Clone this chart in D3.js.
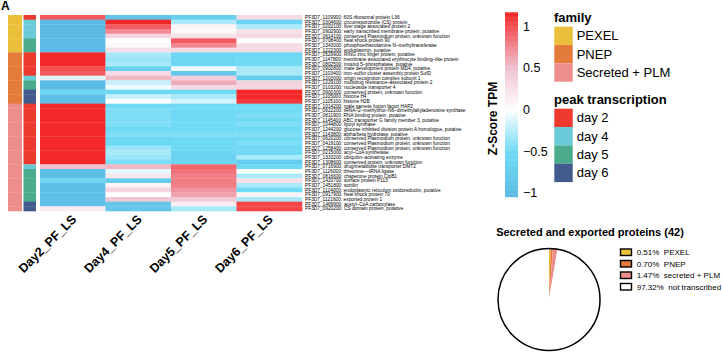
<!DOCTYPE html>
<html>
<head>
<meta charset="utf-8">
<script src="https://cdn.jsdelivr.net/npm/d3@7"></script>
<style>
  body { margin: 0; background: #fff; }
  svg { display: block; font-family: "Liberation Sans", Arial, sans-serif; }
</style>
</head>
<body>
<svg id="chart" width="722" height="352"></svg>
<script>
var days = ["Day2_PF_LS", "Day4_PF_LS", "Day5_PF_LS", "Day6_PF_LS"];

var genes = [
  "PF3D7_1109900: 60S ribosomal protein L36",
  "PF3D7_0304600: circumsporozoite (CS) protein",
  "PF3D7_0202100: liver stage associated protein 2",
  "PF3D7_0902900: early transcribed membrane protein, putative",
  "PF3D7_0614100: conserved Plasmodium protein, unknown function",
  "PF3D7_0708400: heat shock protein 90",
  "PF3D7_1343000: phosphoethanolamine N–methyltransferase",
  "PF3D7_1222300: endoplasmin, putative",
  "PF3D7_0529900: RING zinc finger protein, putative",
  "PF3D7_1147800: membrane associated erythrocyte binding–like protein",
  "PF3D7_0802500: inositol 5–phosphatase, putative",
  "PF3D7_0902800: male development protein MD4, putative",
  "PF3D7_1103400: iron–sulfur cluster assembly protein SufD",
  "PF3D7_1203000: origin recognition complex subunit 1",
  "PF3D7_1229100: multidrug resistance–associated protein 2",
  "PF3D7_0103200: nucleoside transporter 4",
  "PF3D7_0900300: conserved protein, unknown function",
  "PF3D7_1105000: histone H4",
  "PF3D7_1105100: histone H2B",
  "PF3D7_1014200: male gamete fusion factor HAP2",
  "PF3D7_0622200: tRNA–2–methylthio–N6–dimethylallyladenosine synthase",
  "PF3D7_0811900: RNA binding protein, putative",
  "PF3D7_1145400: ABC transporter G family member 3, putative",
  "PF3D7_1044800: lipoyl synthase",
  "PF3D7_1244200: glucose inhibited division protein A homologue, putative",
  "PF3D7_1143800: alpha/beta hydrolase, putative",
  "PF3D7_0620200: conserved Plasmodium protein, unknown function",
  "PF3D7_0419100: conserved Plasmodium protein, unknown function",
  "PF3D7_1258400: conserved Plasmodium protein, unknown function",
  "PF3D7_0215000: acyl–CoA synthetase",
  "PF3D7_1333200: ubiquitin–activating enzyme",
  "PF3D7_1308600: conserved protein, unknown function",
  "PF3D7_0716900: drug/metabolite transporter DMT2",
  "PF3D7_1126000: threonine––tRNA ligase",
  "PF3D7_0816600: chaperone protein ClpB1",
  "PF3D7_1420700: surface protein P113",
  "PF3D7_1451800: sortilin",
  "PF3D7_1124000: endoplasmic reticulum oxidoreductin, putative",
  "PF3D7_0917900: heat shock protein 70",
  "PF3D7_1121600: exported protein 1",
  "PF3D7_1469900: acetyl–CoA carboxylase",
  "PF3D7_0920200: CS domain protein, putative"
];

// row z-scores, one array per column
var zDay2 = [0.95, -1.2, -1.2, -1.2, -1.2, -1.2, -1.2, -1.2, 1.3, 1.3, 1.3, 1.0, 0.95, -0.1,
  -1.2, -1.2, -0.55, -1.0, -1.0, 1.4, 1.4, 1.4, 1.4, 1.4, 1.4, 1.4, 1.4, 1.4, 1.4, 1.4, 1.4, 1.4,
  0.5, -1.0, -1.0, -0.55, -1.0, -1.0, -1.0, -0.95, -0.95, 0.15];
var zDay4 = [-0.9, 1.3, 0.95, 0.75, 0.35, 0.0, 0.05, 0.25, -0.3, -0.35, -0.3, -0.7, 0.3, 0.55,
  -0.2, -0.05, -0.55, -0.2, 0.0, -0.5, -0.45, -0.45, -0.45, -0.45, -0.5, -0.45, -0.55, -0.55, -0.35, -0.3, -0.35, -0.45,
  0.55, -0.1, 0.2, -0.75, 0.1, 0.35, 0.0, 0.45, -0.85, -0.85];
var zDay5 = [-0.7, -0.3, 0.1, 0.05, 0.25, 0.95, 0.75, 0.3, -0.55, -0.55, -0.55, -0.05, -0.8, 0.4,
  0.6, 0.3, -0.5, -0.3, -0.15, -0.5, -0.5, -0.5, -0.5, -0.5, -0.5, -0.45, -0.5, -0.5, -0.5, -0.6, -0.65, -0.55,
  0.9, 0.85, 0.8, 0.8, 0.8, 0.7, 0.65, 0.45, 0.15, -0.3];
var zDay6 = [0.3, -0.6, -0.3, 0.25, 0.3, 0.0, 0.28, 0.3, -0.55, -0.5, -0.5, -0.3, -0.3, -0.75,
  0.35, 0.35, 1.3, 1.3, 1.1, -0.5, -0.5, -0.45, -0.5, -0.45, -0.5, -0.45, -0.5, -0.45, -0.5, -0.5, -0.3, -0.75,
  -0.5, -0.02, -0.3, 0.25, -0.3, -0.5, 0.1, -0.3, 1.05, 1.05];

var rowFamily = [
  "PEXEL", "PEXEL", "PEXEL", "PEXEL", "PEXEL", "PEXEL", "PEXEL", "PEXEL",
  "PNEP", "PNEP", "PNEP", "PNEP", "PNEP", "PNEP", "PNEP", "PNEP", "PNEP", "PNEP", "PNEP",
  "Secreted + PLM", "Secreted + PLM", "Secreted + PLM", "Secreted + PLM", "Secreted + PLM",
  "Secreted + PLM", "Secreted + PLM", "Secreted + PLM", "Secreted + PLM", "Secreted + PLM",
  "Secreted + PLM", "Secreted + PLM", "Secreted + PLM", "Secreted + PLM", "Secreted + PLM",
  "Secreted + PLM", "Secreted + PLM", "Secreted + PLM", "Secreted + PLM", "Secreted + PLM",
  "Secreted + PLM", "Secreted + PLM", "Secreted + PLM"
];
var rowPeak = [
  "day 2", "day 4", "day 4", "day 4", "day 4", "day 5", "day 5", "day 5",
  "day 2", "day 2", "day 2", "day 2", "day 2", "day 4", "day 5", "day 5", "day 6", "day 6", "day 6",
  "day 2", "day 2", "day 2", "day 2", "day 2", "day 2", "day 2", "day 2", "day 2", "day 2",
  "day 2", "day 2", "day 2", "day 4", "day 5", "day 5", "day 5", "day 5", "day 5", "day 5",
  "day 5", "day 6", "day 6"
];

var familyNames = ["PEXEL", "PNEP", "Secreted + PLM"];
var familyColors = ["#eabf3a", "#e57b3a", "#ec8e8b"];
var peakNames = ["day 2", "day 4", "day 5", "day 6"];
var peakColors = ["#ee3a2e", "#6ccbd8", "#4aac8c", "#435a8c"];
var zTicks = [-1, -0.5, 0, 0.5, 1];

var pieNames = ["PEXEL", "PNEP", "secreted + PLM", "not transcribed"];
var piePercents = [0.51, 0.70, 1.47, 97.32];
var pieColors = ["#eabf3a", "#e57b3a", "#ec8e8b", "#ffffff"];

var svg = d3.select("#chart");

var color = d3.scaleLinear()
  .domain([-1.05, -0.5, 0, 0.5, 1.17])
  .range(["#5bbbe4", "#70daf5", "#ffffff", "#efc2d1", "#f42828"])
  .clamp(true);

var cols = [zDay2, zDay4, zDay5, zDay6];
var x = d3.scaleBand().domain(days).range([40, 302]);
var y = d3.scaleBand().domain(d3.range(genes.length)).range([15, 211]);

svg.append("text")
  .attr("x", 1).attr("y", 10)
  .attr("font-size", 12).attr("font-weight", "bold")
  .text("A");

// heatmap cells
var cells = [];
days.forEach(function(day, j) {
  cols[j].forEach(function(v, i) { cells.push({ day: day, row: i, v: v }); });
});
svg.append("g").selectAll("rect")
  .data(cells)
  .enter().append("rect")
  .attr("x", function(d) { return x(d.day); })
  .attr("y", function(d) { return y(d.row); })
  .attr("width", x.bandwidth() + 0.3)
  .attr("height", y.bandwidth() + 0.3)
  .attr("fill", function(d) { return color(d.v); });

// row annotations
var famColor = d3.scaleOrdinal().domain(familyNames).range(familyColors);
var peakColor = d3.scaleOrdinal().domain(peakNames).range(peakColors);

svg.append("g").selectAll("rect")
  .data(rowFamily)
  .enter().append("rect")
  .attr("x", 8).attr("width", 14)
  .attr("y", function(d, i) { return y(i); })
  .attr("height", y.bandwidth() + 0.3)
  .attr("fill", function(d) { return famColor(d); });

svg.append("g").selectAll("rect")
  .data(rowPeak)
  .enter().append("rect")
  .attr("x", 23.5).attr("width", 12.5)
  .attr("y", function(d, i) { return y(i); })
  .attr("height", y.bandwidth() + 0.3)
  .attr("fill", function(d) { return peakColor(d); });

// row labels
svg.append("g").selectAll("text")
  .data(genes)
  .enter().append("text")
  .attr("x", 305)
  .attr("y", function(d, i) { return y(i) + y.bandwidth() / 2 + 1.7; })
  .attr("font-size", 4.8)
  .text(function(d) { return d; });

// column labels
svg.append("g").selectAll("text")
  .data(days)
  .enter().append("text")
  .attr("transform", function(d) {
    return "translate(" + (x(d) + x.bandwidth() / 2 + 4.5) + ",220) rotate(-45)";
  })
  .attr("text-anchor", "end")
  .attr("font-size", 12.5).attr("font-weight", "bold")
  .text(function(d) { return d; });

// colour bar
var zy = d3.scaleLinear().domain([-1.05, 1.17]).range([196.7, 12.3]);
var steps = d3.range(-1.05, 1.17, 0.01);
svg.append("g").selectAll("rect")
  .data(steps)
  .enter().append("rect")
  .attr("x", 505).attr("width", 13)
  .attr("y", function(d) { return zy(d + 0.01); })
  .attr("height", zy(0) - zy(0.01) + 0.5)
  .attr("fill", function(d) { return color(d + 0.005); });

var zAxis = svg.append("g")
  .attr("transform", "translate(518,0)")
  .call(d3.axisRight(zy).tickValues(zTicks).tickSize(0).tickPadding(5).tickFormat(d3.format("")));
zAxis.select(".domain").remove();
zAxis.selectAll("text")
  .attr("font-size", 12.5)
  .attr("font-family", "Liberation Sans, Arial, sans-serif")
  .attr("fill", "#000");

svg.append("text")
  .attr("transform", "translate(497,118.5) rotate(-90)")
  .attr("text-anchor", "middle")
  .attr("font-size", 12).attr("font-weight", "bold")
  .text("Z-Score TPM");

// annotation legends
function legend(title, names, colors, top) {
  var g = svg.append("g");
  g.append("text")
    .attr("x", 554).attr("y", top - 5)
    .attr("font-size", 13).attr("font-weight", "bold")
    .text(title);
  g.selectAll("rect")
    .data(names)
    .enter().append("rect")
    .attr("x", 554.3).attr("width", 18.4)
    .attr("y", function(d, i) { return top + i * 18.35; })
    .attr("height", 18.35)
    .attr("fill", function(d, i) { return colors[i]; });
  g.selectAll("text.lab")
    .data(names)
    .enter().append("text")
    .attr("class", "lab")
    .attr("x", 576.7)
    .attr("y", function(d, i) { return top + i * 18.35 + 13.5; })
    .attr("font-size", 13)
    .text(function(d) { return d; });
}
legend("family", familyNames, familyColors, 26.7);
legend("peak transcription", peakNames, peakColors, 108.7);

// pie chart
svg.append("text")
  .attr("x", 590).attr("y", 236)
  .attr("text-anchor", "middle")
  .attr("font-size", 11).attr("font-weight", "bold")
  .text("Secreted and exported proteins (42)");

var pie = d3.pie().sort(null).value(function(d) { return d; });
var arc = d3.arc().innerRadius(0).outerRadius(51);
var pieG = svg.append("g").attr("transform", "translate(549,299.5)");
pieG.selectAll("path")
  .data(pie(piePercents))
  .enter().append("path")
  .attr("d", arc)
  .attr("fill", function(d, i) { return pieColors[i]; });
pieG.append("circle")
  .attr("r", 51)
  .attr("fill", "none")
  .attr("stroke", "#000")
  .attr("stroke-width", 1.5);

var pl = svg.append("g");
pl.selectAll("rect")
  .data(pieNames)
  .enter().append("rect")
  .attr("x", 620.5).attr("width", 11)
  .attr("y", function(d, i) { return 249 + i * 11.5; })
  .attr("height", 6.5)
  .attr("fill", function(d, i) { return pieColors[i]; })
  .attr("stroke", "#000")
  .attr("stroke-width", 1.4);
pl.selectAll("text")
  .data(pieNames)
  .enter().append("text")
  .attr("x", 636.7)
  .attr("y", function(d, i) { return 255.3 + i * 11.5; })
  .attr("font-size", 8)
  .attr("xml:space", "preserve")
  .text(function(d, i) { return piePercents[i].toFixed(2) + "%  " + d; });
</script>
</body>
</html>
